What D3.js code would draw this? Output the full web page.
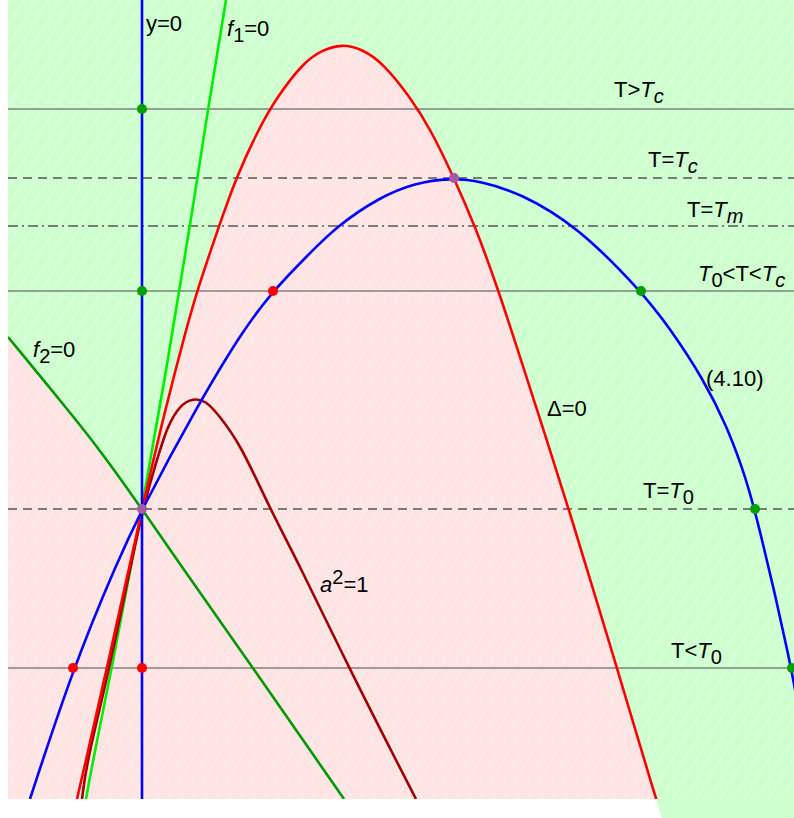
<!DOCTYPE html>
<html lang="en">
<head>
<meta charset="UTF-8">
<title>Phase diagram</title>
<script src="https://d3js.org/d3.v7.min.js"></script>
<style>
    body, html {
        margin: 0;
        padding: 0;
        background: #ffffff;
    }
    svg {
        display: block;
        font-family: 'Liberation Sans', Arial, sans-serif;
    }
    .lbl {
        font-size: 22px;
        fill: #000;
    }
</style>
</head>
<body>
<svg id="chart" width="794" height="818"></svg>
<script>
    // plot window in model units (horizontal: y, vertical: T)
    const xDomain = [-1.34, 6.52];
    const yDomain = [-2.90, 5.09];

    // temperature levels (grey horizontal lines)
    const levelValues = [4.00, 3.31, 2.83, 2.18, 0, -1.59];
    const levelKinds  = ["solid", "dashed", "dashdot", "solid", "dashed", "solid"];

    // curves, as [y, T] pairs
    const delta0 = [[-0.65, -2.90], [-0.56, -2.51], [-0.35, -1.59], [0, 0], [0.23, 0.99], [0.44, 1.79],
        [0.55, 2.18], [0.77, 2.83], [0.94, 3.31], [1.16, 3.79], [1.35, 4.12], [1.61, 4.46],
        [1.80, 4.59], [2.00, 4.65], [2.20, 4.60], [2.41, 4.46], [2.68, 4.12], [2.89, 3.79],
        [3.12, 3.31], [3.33, 2.83], [3.57, 2.18], [3.95, 0.99], [4.27, 0], [4.75, -1.59], [5.14, -2.90],
        [5.20, -3.09]];
    const eq410 = [[-1.12, -2.90], [-0.69, -1.59], [-0.24, -0.51], [0, 0], [0.53, 0.99], [1.01, 1.79],
        [1.31, 2.18], [1.64, 2.52], [1.95, 2.83], [2.38, 3.12], [2.73, 3.26], [3.08, 3.31], [3.38, 3.28],
        [3.78, 3.16], [4.35, 2.83], [4.99, 2.18], [5.27, 1.82], [5.62, 1.29], [5.85, 0.82], [6.00, 0.42],
        [6.13, 0.01], [6.50, -1.59], [6.58, -2.11]];
    const aSq1 = [[-0.60, -2.90], [-0.55, -2.51], [-0.32, -1.59], [0, 0], [0.15, 0.49], [0.25, 0.82],
        [0.38, 1.04], [0.51, 1.11], [0.64, 1.08], [0.75, 0.96], [0.98, 0.66], [1.28, 0], [1.55, -0.51],
        [2.07, -1.59], [2.58, -2.59], [2.74, -2.90]];
    const f1 = [[0.84, 5.09], [0.66, 4.00], [0.48, 2.83], [0.37, 2.18], [0.26, 1.49], [0, 0],
        [-0.30, -1.59], [-0.49, -2.51], [-0.56, -2.90]];
    const f2 = [[-1.34, 1.72], [-0.74, 0.99], [-0.42, 0.59], [0, 0], [0.35, -0.51], [1.11, -1.59],
        [2.02, -2.90]];
    const yZero = [[0, 5.09], [0, -2.90]];

    // marked points
    const greenDots  = [[0, 4.00], [0, 2.18], [4.99, 2.18], [6.13, 0], [6.50, -1.59]];
    const redDots    = [[1.31, 2.18], [-0.69, -1.59], [0, -1.59]];
    const purpleDots = [[0, 0], [3.12, 3.31]];

    // labels: pieces of [text, kind]
    const labelParts = [
        [["y=0", ""]],
        [["f", "i"], ["1", "sub"], ["=0", ""]],
        [["T>", ""], ["T", "i"], ["c", "isub"]],
        [["T=", ""], ["T", "i"], ["c", "isub"]],
        [["T=", ""], ["T", "i"], ["m", "isub"]],
        [["T", "i"], ["0", "sub"], ["<T<", ""], ["T", "i"], ["c", "isub"]],
        [["(4.10)", ""]],
        [["Δ=0", ""]],
        [["T=", ""], ["T", "i"], ["0", "sub"]],
        [["a", "i"], ["2", "sup"], ["=1", ""]],
        [["T<", ""], ["T", "i"], ["0", "sub"]],
        [["f", "i"], ["2", "sub"], ["=0", ""]]
    ];
    const labelAt = [[0.04, 4.78], [0.85, 4.73], [4.72, 4.12], [5.06, 3.42], [5.45, 2.92], [5.56, 2.28],
        [5.64, 1.23], [4.05, 0.93], [5.01, 0.11], [1.78, -0.83], [5.29, -1.49], [-1.09, 1.52]];

    const W = 794, H = 818;
    const x = d3.scaleLinear().domain(xDomain).range([8, 794]);
    const y = d3.scaleLinear().domain(yDomain).range([799, 0]);

    const svg = d3.select("#chart");
    const defs = svg.append("defs");

    defs.append("clipPath").attr("id", "plotClip")
        .append("rect")
        .attr("x", x(xDomain[0])).attr("y", y(yDomain[1]))
        .attr("width", x(xDomain[1]) - x(xDomain[0]))
        .attr("height", y(yDomain[0]) - y(yDomain[1]));

    // faint hatching like the original fill
    const pat = defs.append("pattern").attr("id", "hatch")
        .attr("patternUnits", "userSpaceOnUse").attr("width", 12).attr("height", 20);
    pat.append("path").attr("d", "M0,20 L12,0 M-6,10 L0,0 M12,20 L18,10")
        .attr("stroke", "#fff").attr("stroke-opacity", 0.35).attr("stroke-width", 1);
    pat.append("path").attr("d", "M0,0 V20 M0,0 H12")
        .attr("stroke", "#fff").attr("stroke-opacity", 0.25).attr("stroke-width", 1);

    const line = d3.line()
        .x(d => x(d[0]))
        .y(d => y(d[1]))
        .curve(d3.curveBasis);

    const GREEN_BG = "#ceffce";
    const PINK_BG = "#ffe4e4";

    // green background, plus the strip that runs below the frame right of Δ=0
    const bg = svg.append("g");
    bg.append("rect")
        .attr("x", x(xDomain[0])).attr("y", y(yDomain[1]))
        .attr("width", x(xDomain[1]) - x(xDomain[0]))
        .attr("height", y(yDomain[0]) - y(yDomain[1]))
        .attr("fill", GREEN_BG);
    const tail = delta0.slice(-2);
    bg.append("path")
        .attr("d", `M${x(tail[0][0])},${y(tail[0][1])} L${x(tail[1][0])},${H} L${W},${H} L${W},${y(tail[0][1])} Z`)
        .attr("fill", GREEN_BG);

    // pink region: inside Δ=0 and left of f2=0
    const pink = svg.append("g").attr("clip-path", "url(#plotClip)");
    pink.append("path").attr("d", line(delta0) + "Z").attr("fill", PINK_BG);
    pink.append("path")
        .attr("d", line(f2) + `L${x(xDomain[0])},${y(yDomain[0])}Z`)
        .attr("fill", PINK_BG);

    svg.append("rect")
        .attr("x", x(xDomain[0])).attr("y", y(yDomain[1]))
        .attr("width", x(xDomain[1]) - x(xDomain[0]))
        .attr("height", y(yDomain[0]) - y(yDomain[1]))
        .attr("fill", "url(#hatch)");

    const plot = svg.append("g").attr("clip-path", "url(#plotClip)");

    const dashFor = {solid: null, dashed: "9,6", dashdot: "10,4,2,4"};
    plot.selectAll(".level")
        .data(levelValues)
        .join("line")
        .attr("class", "level")
        .attr("x1", x(xDomain[0])).attr("x2", x(xDomain[1]))
        .attr("y1", d => y(d)).attr("y2", d => y(d))
        .attr("stroke", (d, i) => levelKinds[i] === "solid" ? "#808080" : "#555555")
        .attr("stroke-width", 1.6)
        .attr("stroke-dasharray", (d, i) => dashFor[levelKinds[i]]);

    const curves = [
        {pts: f2, color: "#009900"},
        {pts: f1, color: "#00ee00"},
        {pts: aSq1, color: "#a00000"},
        {pts: delta0, color: "#ff0000"},
        {pts: eq410, color: "#0000ff"},
        {pts: yZero, color: "#0000ff"}
    ];
    plot.selectAll(".curve")
        .data(curves)
        .join("path")
        .attr("class", "curve")
        .attr("d", d => line(d.pts))
        .attr("fill", "none")
        .attr("stroke", d => d.color)
        .attr("stroke-width", 2.6);

    const dotSets = [
        {pts: greenDots, color: "#00a000"},
        {pts: redDots, color: "#ff0000"},
        {pts: purpleDots, color: "#a45aa4"}
    ];
    dotSets.forEach(s => {
        plot.selectAll(null)
            .data(s.pts)
            .join("circle")
            .attr("cx", d => x(d[0]))
            .attr("cy", d => y(d[1]))
            .attr("r", 5)
            .attr("fill", s.color);
    });

    // labels
    const lbl = svg.append("g");
    labelParts.forEach((parts, i) => {
        const t = lbl.append("text")
            .attr("class", "lbl")
            .attr("x", x(labelAt[i][0]))
            .attr("y", y(labelAt[i][1]));
        let shift = 0;
        parts.forEach(([s, k]) => {
            const ts = t.append("tspan").text(s);
            const isSub = k === "sub" || k === "isub";
            const isSup = k === "sup";
            const target = isSub ? 6 : isSup ? -8 : 0;
            if (target !== shift) {
                ts.attr("dy", target - shift);
                shift = target;
            }
            if (k === "i" || k === "isub") ts.attr("font-style", "italic");
            if (isSub || isSup) ts.attr("font-size", "20px");
        });
    });
</script>
</body>
</html>
